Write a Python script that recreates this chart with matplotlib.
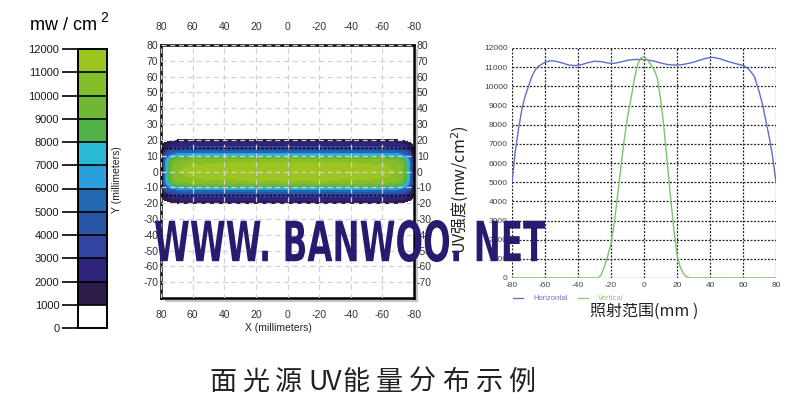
import numpy as np
import matplotlib
matplotlib.use("Agg")
import matplotlib.pyplot as plt
from matplotlib.colors import ListedColormap, BoundaryNorm
from matplotlib.colorbar import ColorbarBase
from matplotlib.patches import Rectangle, PathPatch
from matplotlib.textpath import TextPath
from matplotlib.font_manager import FontProperties
from matplotlib.transforms import Affine2D
from matplotlib.lines import Line2D

plt.rcParams["axes.unicode_minus"] = False

# ---------------- data ----------------
level_bounds = [0, 1000, 2000, 3000, 4000, 5000, 6000, 7000, 8000, 9000, 10000, 11000, 12000]
level_colors = ["#ffffff", "#2b1c4a", "#30237a", "#3243a0", "#2855a6", "#2268b0",
                "#2a9fdc", "#2bbad6", "#4fb146", "#70b833", "#84be2a", "#9cc61f"]

# heat map profiles (source intensity across Y and relative fall-off along X)
profile_y_mm = [0, 4, 7, 8.5, 9.5, 10.5, 11.5, 12.5, 13.5, 15.5, 17.5, 19, 20.5]
profile_y_val = [11700, 11500, 10800, 9800, 8600, 7500, 6500, 5500, 4500, 3200, 2500, 1900, 1500]
profile_x_mm = [0, 40, 60, 68, 72, 75, 77, 78.5, 80]
profile_x_fac = [1.0, 0.99, 0.97, 0.94, 0.88, 0.75, 0.6, 0.4, 0.15]
guide_y = [15, -15]

hm_xticks = [80, 60, 40, 20, 0, -20, -40, -60, -80]
hm_yticks = [80, 70, 60, 50, 40, 30, 20, 10, 0, -10, -20, -30, -40, -50, -60, -70]

# line profiles
horiz_x = [-80, -78, -76, -74, -72, -70, -68, -66, -64, -62, -60, -57, -54, -50, -46, -42, -38,
           -34, -30, -26, -22, -18, -14, -10, -6, -2, 2, 6, 10, 14, 18, 22, 26, 30, 34, 38,
           42, 46, 50, 54, 58, 61, 64, 67, 70, 72, 74, 76, 78, 80]
horiz_y = [5000, 6600, 7800, 8800, 9500, 10000, 10500, 10850, 11050, 11150, 11250, 11330, 11320,
           11230, 11120, 11080, 11130, 11230, 11310, 11290, 11220, 11200, 11270, 11360, 11400,
           11400, 11380, 11320, 11220, 11140, 11110, 11120, 11180, 11260, 11370, 11470, 11510,
           11440, 11320, 11220, 11130, 11060, 10850, 10500, 9650, 9000, 8150, 7300, 6300, 5000]
vert_x = [-80, -28, -26, -24, -22, -20, -18, -16, -14, -12, -10, -8, -6, -4, -2, 0, 2, 4, 6, 8,
          10, 12, 14, 16, 18, 20, 22, 24, 26, 28, 80]
vert_y = [0, 0, 150, 600, 1150, 1800, 2900, 4300, 5800, 7200, 8400, 9300, 10300, 11100, 11480,
          11530, 11400, 11150, 10900, 10450, 9400, 7900, 6100, 4300, 2600, 1200, 550, 220, 50, 0, 0]
lp_xticks = [-80, -60, -40, -20, 0, 20, 40, 60, 80]
lp_yticks = list(range(0, 12001, 1000))

# ---------------- figure ----------------
W, H = 799, 408
fig = plt.figure(figsize=(W / 100, H / 100), dpi=100)
fig.patch.set_facecolor("white")

def box(l, t, r, b):
    return [l / W, 1 - b / H, (r - l) / W, (b - t) / H]

SANS = ["Liberation Sans", "DejaVu Sans"]
CJK = ["Noto Sans CJK SC", "DejaVu Sans"]

# ---------------- colour bar ----------------
cmap = ListedColormap(level_colors)
norm = BoundaryNorm(level_bounds, cmap.N)
cax = fig.add_axes(box(78, 49, 107, 328))
cb = ColorbarBase(cax, cmap=cmap, norm=norm, orientation="vertical",
                  drawedges=True, ticks=level_bounds)
cb.outline.set_linewidth(1.4)
cb.dividers.set_linewidth(1.2)
cax.yaxis.set_ticks_position("left")
cax.tick_params(axis="y", length=11.5, width=1.2, pad=2, labelsize=8, colors="black")
for lab in cax.get_yticklabels():
    lab.set_family(SANS)
    lab.set_color("#1a1a2a")
fig.text(64 / W, 1 - 26 / H, "mw / cm", fontsize=13, family=SANS, ha="center", va="center")
fig.text(104 / W, 1 - 18 / H, "2", fontsize=10, family=SANS, ha="center", va="center")
fig.text(117 / W, 1 - 180 / H, "Y (millimeters)", rotation=90, fontsize=7.5, family=SANS,
         ha="center", va="center", color="#222")

# ---------------- heat map ----------------
shadow = Rectangle(((161 + 4) / W, 1 - (298 + 4) / H), 253 / W, 253 / H,
                   transform=fig.transFigure, facecolor="#c4c4c4", edgecolor="none",
                   zorder=-5)
fig.add_artist(shadow)
hax = fig.add_axes(box(161, 45, 414, 298))
hax.set_zorder(1)
hax.set_facecolor("white")
xs = np.linspace(-80, 80, 641)
ys = np.linspace(-22, 22, 353)
XX, YY = np.meshgrid(xs, ys)
prof_y = np.interp(np.abs(YY), profile_y_mm, profile_y_val)
prof_x = np.interp(np.abs(XX), profile_x_mm, profile_x_fac)
field = prof_y * prof_x
inside = (np.abs(XX) / 80.5) ** 10 + (np.abs(YY) / 20.8) ** 10 <= 1
field = np.ma.masked_where(~inside, np.maximum(field, 1150))
hax.pcolormesh(XX, YY, field, cmap=cmap, norm=norm, shading="nearest", rasterized=False)
for gy in guide_y:
    hax.axhline(gy, color="black", lw=1.0, ls=(0, (1.5, 1.5)), zorder=3)
hax.set_xlim(80, -80)
hax.set_ylim(-80, 80)
hax.set_xticks(hm_xticks)
hax.set_yticks(hm_yticks)
hax.grid(True, color="#d4cede", lw=0.9, ls=(0, (4, 3)), zorder=4)
hax.set_axisbelow(False)
hax.tick_params(axis="both", length=0, labelsize=7.5, colors="#333",
                top=True, labeltop=True, right=True, labelright=True)
hax.tick_params(axis="x", pad=9)
hax.tick_params(axis="y", pad=2)
for lab in hax.get_xticklabels() + hax.get_yticklabels():
    lab.set_family(SANS)
for s in hax.spines.values():
    s.set_linewidth(1.8)
    s.set_color("black")
fig.text(278 / W, 1 - 328 / H, "X (millimeters)", fontsize=7.5, family=SANS,
         ha="center", va="center", color="#222")

# ---------------- line profile ----------------
lax = fig.add_axes(box(512, 48, 776, 278))
lax.plot(horiz_x, horiz_y, color="#5d6fc6", lw=1.0, zorder=3)
lax.plot(vert_x, vert_y, color="#7cc46a", lw=1.0, zorder=3)
lax.set_xlim(-80, 80)
lax.set_ylim(0, 12000)
lax.set_xticks(lp_xticks)
lax.set_yticks(lp_yticks)
lax.grid(True, color="#2a2a2a", lw=0.9, ls=(0, (1.6, 1.2)), zorder=1)
for s in lax.spines.values():
    s.set_visible(False)
lax.tick_params(axis="both", length=0, labelsize=6, colors="#444", pad=3)
for lab in lax.get_xticklabels() + lax.get_yticklabels():
    lab.set_family(SANS)
lax.set_xlabel("照射范围(mm )", fontsize=11.5, family=CJK, color="#222", labelpad=10)
fig.text(460 / W, 1 - 190 / H, "UV强度(mw/cm$^2$)", rotation=90, fontsize=11.5,
         family=CJK, ha="center", va="center", color="#222")
# legend
fig.add_artist(Line2D([513 / W, 523 / W], [1 - 298 / H] * 2, color="#5d6fc6", lw=0.9))
fig.text(533 / W, 1 - 298 / H, "Horizontal", fontsize=5.5, family=SANS, color="#6a78c8",
         ha="left", va="center")
fig.add_artist(Line2D([578 / W, 588 / W], [1 - 298 / H] * 2, color="#8ccc70", lw=0.9))
fig.text(598 / W, 1 - 298 / H, "Vertical", fontsize=5.5, family=SANS, color="#8ccc70",
         ha="left", va="center")

# ---------------- watermark ----------------
wm_font = FontProperties(family="DejaVu Sans", weight="bold")
tp = TextPath((0, 0), "WWW. BANWOO. NET", size=100, prop=wm_font)
ext = tp.get_extents()
tl, tr_, tb, tt = 155, 545, 262, 220  # target box in pixels (left, right, bottom, top)
sx = (tr_ - tl) / ext.width
sy = (tb - tt) / ext.height
tr = Affine2D().translate(-ext.x0, -ext.y0).scale(sx, sy).translate(tl, H - tb)
wm = PathPatch(tr.transform_path(tp), facecolor="#261b6e", edgecolor="none",
               transform=None, zorder=10)
fig.add_artist(wm)

# ---------------- caption ----------------
caption = "面光源UV能量分布示例"
cap_fp = FontProperties(family="Noto Sans CJK SC", size=19.5)
x = 209.0
for ch in caption:
    p = TextPath((0, 0), ch, size=19.5 * 100 / 72, prop=cap_fp)
    adv = p.get_extents().x1
    fig.text(x / W, 1 - 382 / H, ch, fontproperties=cap_fp, ha="left", va="center",
             color="#222")
    cjk = ord(ch) > 0x2E80
    x += (19.5 * 100 / 72 if cjk else adv + 1) + (6 if cjk else 0)

fig.savefig("out.png", dpi=100, facecolor="white")
